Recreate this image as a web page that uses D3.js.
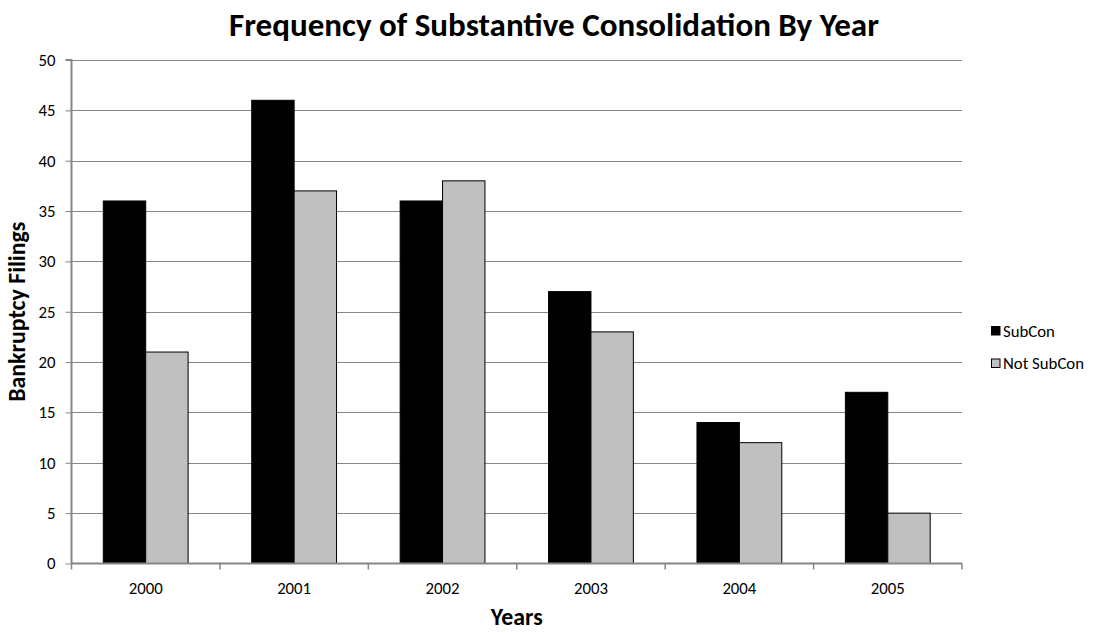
<!DOCTYPE html>
<html>
<head>
<meta charset="utf-8">
<script src="https://cdn.jsdelivr.net/npm/d3@7"></script>
<style>
  html, body { margin: 0; padding: 0; background: #fff; }
  svg { display: block; font-family: Carlito, Calibri, Lato, "Open Sans", sans-serif; }
</style>
</head>
<body>
<svg id="chart" width="1094" height="633"></svg>
<script>
// Filings per year, split by whether substantive consolidation was granted
const years = ["2000", "2001", "2002", "2003", "2004", "2005"];
const seriesNames = ["SubCon", "Not SubCon"];
const subCon = [36, 46, 36, 27, 14, 17];
const notSubCon = [21, 37, 38, 23, 12, 5];
const yTicks = [0, 5, 10, 15, 20, 25, 30, 35, 40, 45, 50];
const seriesColors = ["#000000", "#c0c0c0"];

const title = "Frequency of Substantive Consolidation By Year";
const xTitle = "Years";
const yTitle = "Bankruptcy Filings";

const rows = years.map((yr, i) => ({ year: yr, values: [subCon[i], notSubCon[i]] }));

const svg = d3.select("#chart");
const plot = { left: 71.5, right: 962, top: 60, bottom: 563.5 };

// font size that makes a sample string come out at a given width
function fitSize(sample, width, weight) {
  const t = svg.append("text").attr("font-size", 100).attr("font-weight", weight || "normal").text(sample);
  const w = t.node().getComputedTextLength();
  t.remove();
  return 100 * width / w;
}
const labelSize = fitSize("2000", 34);
const titleSize = fitSize(title, 650, "bold");
const axisTitleSize = fitSize(xTitle, 52, "bold");

const x0 = d3.scaleBand().domain(years).range([plot.left, plot.right]).padding(0);
const x1 = d3.scaleBand().domain(seriesNames).range([0, x0.bandwidth()])
  .paddingInner(0).paddingOuter(0.75);
const y = d3.scaleLinear().domain([0, 50]).range([plot.bottom, plot.top]);

const axisColor = "#868686";

// horizontal gridlines
svg.append("g").selectAll("line").data(yTicks.filter(t => t > 0)).join("line")
  .attr("x1", plot.left).attr("x2", plot.right)
  .attr("y1", d => Math.round(y(d)) + 0.5).attr("y2", d => Math.round(y(d)) + 0.5)
  .attr("stroke", axisColor).attr("stroke-width", 1);

// bars
const groups = svg.append("g").selectAll("g").data(rows).join("g")
  .attr("transform", d => `translate(${x0(d.year)},0)`);
groups.selectAll("rect").data(d => d.values.map((v, i) => ({ key: seriesNames[i], v, i }))).join("rect")
  .attr("x", d => x1(d.key))
  .attr("y", d => y(d.v))
  .attr("width", x1.bandwidth())
  .attr("height", d => y(0) - y(d.v))
  .attr("fill", d => seriesColors[d.i])
  .attr("stroke", "#000").attr("stroke-width", 1);

// y axis
const yAxis = d3.axisLeft(y).tickValues(yTicks).tickSize(6).tickPadding(10).tickFormat(d3.format("d"));
const gy = svg.append("g").attr("transform", `translate(${plot.left},0)`).call(yAxis);
gy.attr("font-family", null).attr("font-size", null);
gy.select(".domain").attr("stroke", axisColor).attr("stroke-width", 2)
  .attr("d", `M-6,${plot.top}H0V${plot.bottom}`);
gy.selectAll(".tick line").attr("stroke", axisColor).attr("stroke-width", 1);
gy.selectAll(".tick text").attr("font-size", labelSize).attr("fill", "#000");

// x axis: ticks at category boundaries, labels at category centres
const gx = svg.append("g").attr("transform", `translate(0,${plot.bottom})`);
gx.append("line").attr("x1", plot.left).attr("x2", plot.right).attr("y1", 0).attr("y2", 0)
  .attr("stroke", axisColor).attr("stroke-width", 2);
const bounds = years.map(yr => x0(yr)).concat([plot.right]);
gx.selectAll("line.tk").data(bounds).join("line").attr("class", "tk")
  .attr("x1", d => d).attr("x2", d => d).attr("y1", 0).attr("y2", 6)
  .attr("stroke", axisColor).attr("stroke-width", 1.5);
gx.selectAll("text").data(years).join("text")
  .attr("x", d => x0(d) + x0.bandwidth() / 2).attr("y", 30)
  .attr("text-anchor", "middle").attr("font-size", labelSize).text(d => d);

// titles
svg.append("text").attr("x", 554).attr("y", 36).attr("text-anchor", "middle")
  .attr("font-size", titleSize).attr("font-weight", "bold").text(title);
svg.append("text").attr("x", (plot.left + plot.right) / 2).attr("y", 625).attr("text-anchor", "middle")
  .attr("font-size", axisTitleSize).attr("font-weight", "bold").text(xTitle);
svg.append("text").attr("transform", `translate(25,${(plot.top + plot.bottom) / 2}) rotate(-90)`)
  .attr("text-anchor", "middle").attr("font-size", axisTitleSize).attr("font-weight", "bold").text(yTitle);

// legend
const legend = svg.append("g").attr("transform", "translate(991,326)");
const items = legend.selectAll("g").data(seriesNames).join("g")
  .attr("transform", (d, i) => `translate(0,${i * 32.5})`);
items.append("rect").attr("x", 0.5).attr("y", 0.5).attr("width", 8.5).attr("height", 8.5)
  .attr("fill", (d, i) => seriesColors[i]).attr("stroke", "#000").attr("stroke-width", 1);
items.append("text").attr("x", 12).attr("y", 10.5).attr("font-size", labelSize).text(d => d);
</script>
</body>
</html>
